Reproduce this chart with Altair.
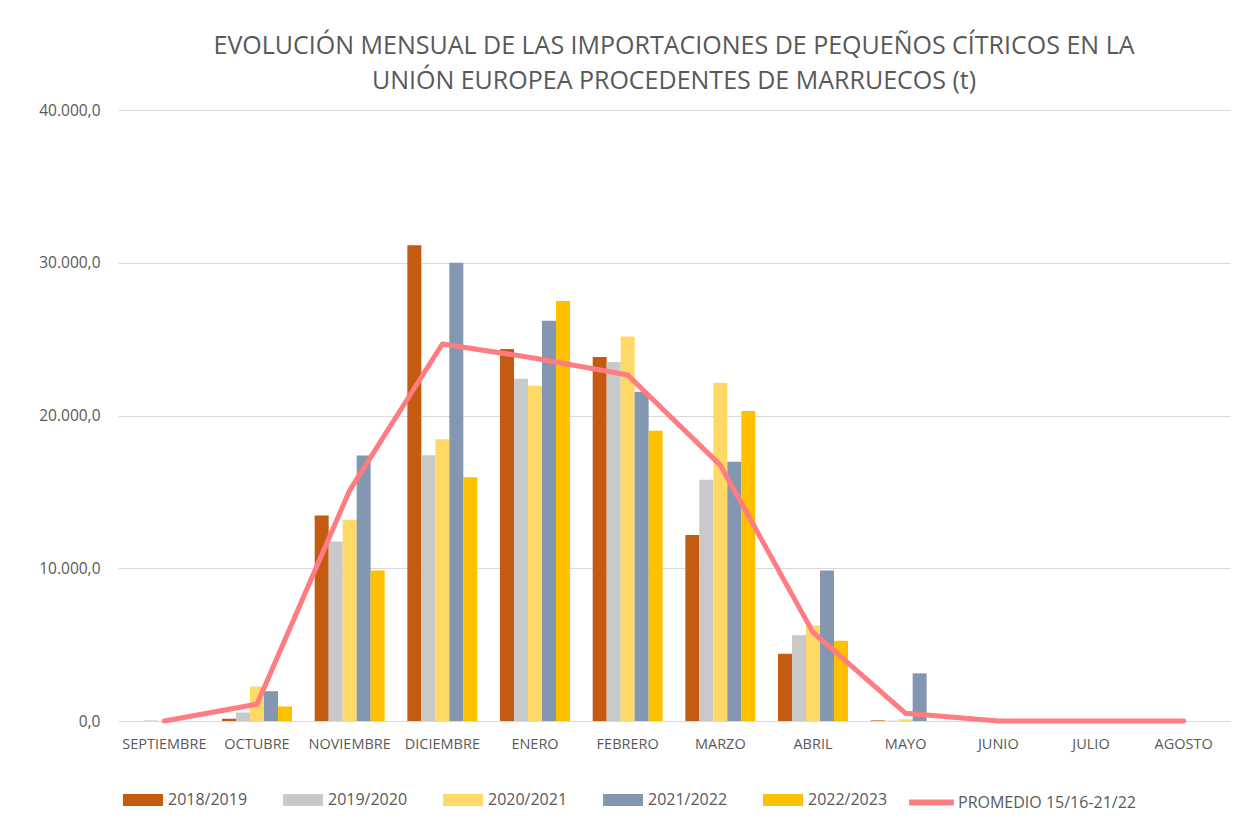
import altair as alt
import pandas as pd

meses = ["SEPTIEMBRE", "OCTUBRE", "NOVIEMBRE", "DICIEMBRE", "ENERO", "FEBRERO",
         "MARZO", "ABRIL", "MAYO", "JUNIO", "JULIO", "AGOSTO"]
campanas = ["2018/2019", "2019/2020", "2020/2021", "2021/2022", "2022/2023"]
colores = ["#C55A11", "#C9C9C9", "#FFD966", "#8497B0", "#FFC000"]

v_2018 = [0, 150, 13450, 31150, 24350, 23830, 12180, 4400, 40, 0, 0, 0]
v_2019 = [40, 560, 11750, 17400, 22400, 23500, 15800, 5620, 20, 0, 0, 0]
v_2020 = [0, 2250, 13180, 18450, 21950, 25180, 22150, 6250, 110, 0, 0, 0]
v_2021 = [0, 1950, 17380, 30000, 26200, 21550, 16980, 9850, 3120, 0, 0, 0]
v_2022 = [0, 950, 9850, 15950, 27500, 19000, 20300, 5250, 0, 0, 0, 0]
promedio = [0, 1100, 15100, 24680, 23750, 22650, 16750, 5800, 500, 0, 0, 0]
nombre_promedio = "PROMEDIO 15/16-21/22"

rows = []
for c, vals in zip(campanas, [v_2018, v_2019, v_2020, v_2021, v_2022]):
    for m, v in zip(meses, vals):
        rows.append({"mes": m, "campana": c, "valor": v})
bars_df = pd.DataFrame(rows)
line_df = pd.DataFrame({"mes": meses, "valor": promedio, "serie": nombre_promedio})

FONT = "Open Sans"
GREY = "#595959"
PINK = "#FF7C80"

x_scale = alt.Scale(paddingInner=0.245, paddingOuter=0.1225)
y_enc = alt.Y(
    "valor:Q",
    title=None,
    scale=alt.Scale(domain=[0, 40000]),
    axis=alt.Axis(
        values=[0, 10000, 20000, 30000, 40000],
        labelExpr="replace(replace(replace(format(datum.value, ',.1f'), ',', '#'), '.', ','), '#', '.')",
        domain=False, ticks=False, grid=True, gridColor="#D9D9D9", labelPadding=18,
        labelFontSize=15.5, labelColor=GREY, labelFont=FONT,
    ),
)

bars = alt.Chart(bars_df).mark_bar().encode(
    x=alt.X("mes:N", sort=meses, scale=x_scale, title=None,
            axis=alt.Axis(labelAngle=0, ticks=False, domainColor="#D9D9D9",
                          labelPadding=16, labelFontSize=14.5, labelColor=GREY,
                          labelFont=FONT, grid=False)),
    xOffset=alt.XOffset("campana:N", sort=campanas, scale=alt.Scale(paddingInner=0, paddingOuter=0)),
    y=y_enc,
    color=alt.Color("campana:N", sort=campanas,
                    scale=alt.Scale(domain=campanas, range=colores),
                    legend=alt.Legend(title=None, orient="none", legendX=5, legendY=670,
                                      direction="horizontal", padding=0,
                                      symbolType="M-1,-0.3H1V0.3H-1Z", symbolSize=1600,
                                      symbolStrokeWidth=0, labelFontSize=16, labelColor=GREY,
                                      labelFont=FONT, columnPadding=35, symbolOffset=0,
                                      labelOffset=5, labelLimit=400)),
)

line = alt.Chart(line_df).mark_line(strokeWidth=5, strokeCap="round", strokeJoin="round").encode(
    x=alt.X("mes:N", sort=meses, bandPosition=0.5, axis=alt.Axis(grid=False)),
    y=alt.Y("valor:Q"),
    stroke=alt.Stroke("serie:N", scale=alt.Scale(domain=[nombre_promedio], range=[PINK]),
                      legend=alt.Legend(title=None, orient="none", legendX=788, legendY=667,
                                        padding=0, symbolType="stroke",
                                        symbolSize=2000, symbolStrokeWidth=6,
                                        labelFontSize=16, labelColor=GREY, labelFont=FONT,
                                        labelOffset=1, labelLimit=400)),
)

chart = alt.layer(bars, line).properties(
    width=1112,
    height=611,
    autosize=alt.AutoSizeParams(type="none"),
    padding={"left": 110, "top": 102, "right": 14, "bottom": 95},
    title=alt.TitleParams(
        ["EVOLUCIÓN MENSUAL DE LAS IMPORTACIONES DE PEQUEÑOS CÍTRICOS EN LA",
         "UNIÓN EUROPEA PROCEDENTES DE MARRUECOS (t)"],
        fontSize=25, font=FONT, fontWeight="normal", color=GREY, lineHeight=35, offset=9,
    ),
).resolve_scale(color="independent").configure_view(
    stroke="transparent", strokeWidth=0, strokeOpacity=0
).configure_axisX(grid=False).configure(
    background="white", style={"cell": {"stroke": "transparent", "strokeWidth": 0}}
)

chart.save("out.html", embed_options={"renderer": "svg", "actions": False})
